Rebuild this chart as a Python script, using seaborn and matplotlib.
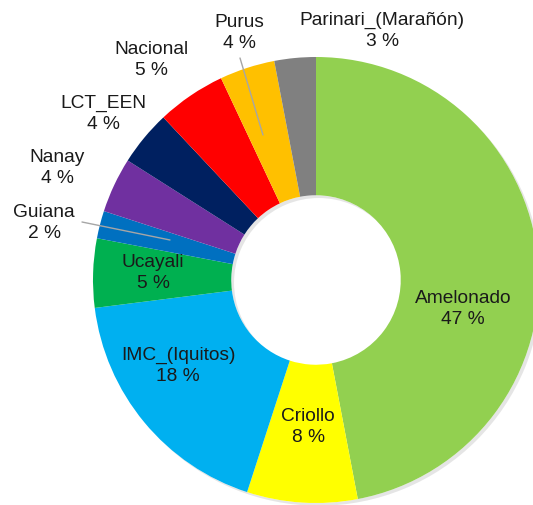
import numpy as np
import pandas as pd
import seaborn as sns
import matplotlib.pyplot as plt
import matplotlib.patheffects as pe
from matplotlib.patches import Wedge

# Data (clockwise from 12 o'clock)
grupos = ['Amelonado', 'Criollo', 'IMC_(Iquitos)', 'Ucayali', 'Guiana',
          'Nanay', 'LCT_EEN', 'Nacional', 'Purus', 'Parinari_(Marañón)']
porcentajes = [47, 8, 18, 5, 2, 4, 4, 5, 4, 3]
colores = ['#92D050', '#FFFF00', '#00B0F0', '#00B050', '#0070C0',
           '#7030A0', '#002060', '#FF0000', '#FFC000', '#808080']

df = pd.DataFrame({'grupo': grupos, 'pct': porcentajes, 'color': colores})

sns.set_theme(style='white')
plt.rcParams['font.family'] = ['Liberation Sans', 'DejaVu Sans']

fig = plt.figure(figsize=(5.33, 5.05), dpi=100)
ax = fig.add_axes([0, 0, 1, 1])

# pixel geometry of the reference: centre (316, 280), outer radius 223 px
cx, cy, R = 316, 280, 223
W, H = 533, 505

# soft shadow under the whole ring
ring = Wedge((0, 0), 1.0, 0, 360, width=0.62, facecolor='white', linewidth=0, zorder=0)
ring.set_path_effects([pe.SimplePatchShadow(offset=(2, -2), alpha=0.2, shadow_rgbFace='gray'),
                       pe.Normal()])
ax.add_patch(ring)

wedges, _ = ax.pie(df['pct'], colors=df['color'], startangle=90, counterclock=False,
                   radius=1.0, wedgeprops=dict(width=0.62, linewidth=0))

ax.set_xlim(-cx / R, (W - cx) / R)
ax.set_ylim(-(H - cy) / R, cy / R)
ax.set_aspect('equal')
ax.axis('off')


def px(x, y):
    return (x - cx) / R, (cy - y) / R


# label anchor points in reference pixels (layout, not data)
label_pos = {
    'Amelonado': (463, 309),
    'Criollo': (308, 427),
    'IMC_(Iquitos)': (178, 366),
    'Ucayali': (153, 273),
    'Guiana': (44, 223),
    'Nanay': (57, 168),
    'LCT_EEN': (103, 114),
    'Nacional': (151, 60),
    'Purus': (239, 33),
    'Parinari_(Marañón)': (382, 31),
}
leaders = {
    'Guiana': ((82, 222), (170, 240)),
    'Purus': ((240, 58), (263, 135)),
}

for g, p in zip(df['grupo'], df['pct']):
    x, y = px(*label_pos[g])
    ax.text(x, y, f'{g}\n{p} %', ha='center', va='center', fontsize=13.8,
            color='#1a1a1a', linespacing=1.3)
    if g in leaders:
        (x0, y0), (x1, y1) = leaders[g]
        a, b = px(x0, y0)
        c, d = px(x1, y1)
        ax.plot([a, c], [b, d], color='#a6a6a6', linewidth=1)

fig.savefig('out.png', dpi=100)
